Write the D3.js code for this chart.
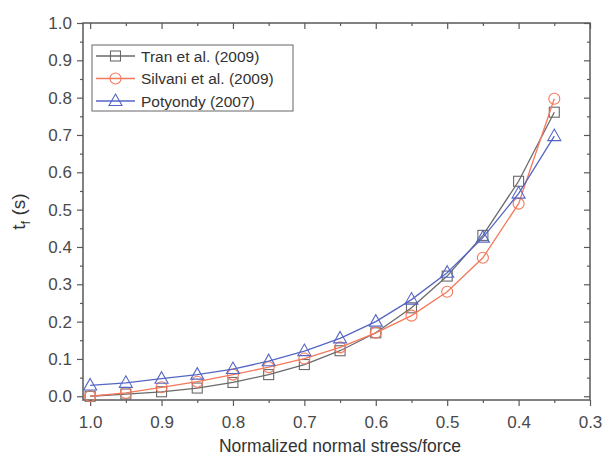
<!DOCTYPE html>
<html>
<head>
<meta charset="utf-8">
<script src="https://cdn.jsdelivr.net/npm/d3@7"></script>
<style>
  body { margin: 0; background: #fff; }
  svg { display: block; font-family: Arial, "Liberation Sans", sans-serif; }
</style>
</head>
<body>
<div id="chart"></div>
<script>
// data
let stress = [1.0, 0.95, 0.9, 0.85, 0.8, 0.75, 0.7, 0.65, 0.6, 0.55, 0.5, 0.45, 0.4, 0.35]
let tran = [0.0, 0.006, 0.012, 0.022, 0.037, 0.058, 0.085, 0.122, 0.17, 0.237, 0.322, 0.431, 0.576, 0.761]
let silvani = [0.0, 0.009, 0.024, 0.039, 0.058, 0.078, 0.101, 0.131, 0.17, 0.216, 0.28, 0.371, 0.516, 0.797]
let potyondy = [0.029, 0.036, 0.047, 0.058, 0.073, 0.094, 0.121, 0.155, 0.2, 0.259, 0.331, 0.425, 0.543, 0.697]
let xTicks = [1.0, 0.9, 0.8, 0.7, 0.6, 0.5, 0.4, 0.3]
let yTicks = [0.0, 0.1, 0.2, 0.3, 0.4, 0.5, 0.6, 0.7, 0.8, 0.9, 1.0]

let series = [
  { name: 'Tran et al. (2009)', values: tran, color: '#6a6a6a', marker: 'square' },
  { name: 'Silvani et al. (2009)', values: silvani, color: '#f4785a', marker: 'circle' },
  { name: 'Potyondy (2007)', values: potyondy, color: '#5566c4', marker: 'triangle' }
]

let w = 605, h = 457
let m = { left: 83, right: 15, top: 23, bottom: 57 }
let axisColor = '#5a5a5a'
let labelColor = '#4a4a4a'

let svg = d3.select('#chart').append('svg')
  .attr('width', w)
  .attr('height', h)

let x = d3.scaleLinear().domain([1.01, 0.3]).range([m.left, w - m.right])
let y = d3.scaleLinear().domain([-0.01, 1.0]).range([h - m.bottom, m.top])

let minorX = d3.range(0, 14).map(i => 0.95 - i * 0.1).filter(v => v > 0.3)
let minorY = d3.range(0, 10).map(i => 0.05 + i * 0.1)

//坐标轴
let styleAxis = g => {
  g.select('.domain').remove()
  g.selectAll('line').attr('stroke', axisColor).attr('stroke-width', 1.2)
  g.selectAll('text').attr('fill', labelColor).attr('font-size', 17)
}
let bottomY = h - m.bottom
let rightX = w - m.right

svg.append('g')
  .attr('transform', `translate(0,${bottomY})`)
  .call(d3.axisBottom(x).tickValues(xTicks).tickFormat(d3.format('.1f')).tickSize(6).tickPadding(10))
  .call(styleAxis)
svg.append('g')
  .attr('transform', `translate(0,${bottomY})`)
  .call(d3.axisBottom(x).tickValues(minorX).tickFormat('').tickSize(3))
  .call(styleAxis)
svg.append('g')
  .attr('transform', `translate(${m.left},0)`)
  .call(d3.axisLeft(y).tickValues(yTicks).tickFormat(d3.format('.1f')).tickSize(6).tickPadding(5))
  .call(styleAxis)
svg.append('g')
  .attr('transform', `translate(${m.left},0)`)
  .call(d3.axisLeft(y).tickValues(minorY).tickFormat('').tickSize(3))
  .call(styleAxis)
// mirror ticks, pointing inward
svg.append('g')
  .attr('transform', `translate(0,${m.top})`)
  .call(d3.axisBottom(x).tickValues(xTicks).tickFormat('').tickSize(6))
  .call(styleAxis)
svg.append('g')
  .attr('transform', `translate(0,${m.top})`)
  .call(d3.axisBottom(x).tickValues(minorX).tickFormat('').tickSize(3))
  .call(styleAxis)
svg.append('g')
  .attr('transform', `translate(${rightX},0)`)
  .call(d3.axisLeft(y).tickValues(yTicks).tickFormat('').tickSize(6))
  .call(styleAxis)
svg.append('g')
  .attr('transform', `translate(${rightX},0)`)
  .call(d3.axisLeft(y).tickValues(minorY).tickFormat('').tickSize(3))
  .call(styleAxis)

svg.append('rect')
  .attr('x', m.left)
  .attr('y', m.top)
  .attr('width', rightX - m.left)
  .attr('height', bottomY - m.top)
  .attr('fill', 'none')
  .attr('stroke', axisColor)
  .attr('stroke-width', 1.5)

//标记
let drawMarker = (g, type, color, cx, cy) => {
  if (type === 'square') {
    g.append('rect')
      .attr('x', cx - 5).attr('y', cy - 5)
      .attr('width', 10).attr('height', 10)
      .attr('fill', 'none').attr('stroke', color).attr('stroke-width', 1.1)
  } else if (type === 'circle') {
    g.append('circle')
      .attr('cx', cx).attr('cy', cy).attr('r', 5.5)
      .attr('fill', 'none').attr('stroke', color).attr('stroke-width', 1.1)
  } else {
    g.append('path')
      .attr('d', `M${cx},${cy - 7}L${cx + 6.5},${cy + 4.5}L${cx - 6.5},${cy + 4.5}Z`)
      .attr('fill', 'none').attr('stroke', color).attr('stroke-width', 1.1)
  }
}

let line = d3.line()
  .x(d => x(d[0]))
  .y(d => y(d[1]))

series.forEach(s => {
  let pts = stress.map((v, i) => [v, s.values[i]])
  let g = svg.append('g')
  g.append('path')
    .datum(pts)
    .attr('d', line)
    .attr('fill', 'none')
    .attr('stroke', s.color)
    .attr('stroke-width', 1.3)
  pts.forEach(p => drawMarker(g, s.marker, s.color, x(p[0]), y(p[1])))
})

//图例
let legend = svg.append('g')
legend.append('rect')
  .attr('x', 92).attr('y', 45)
  .attr('width', 201).attr('height', 66)
  .attr('fill', '#fff')
  .attr('stroke', '#666')
  .attr('stroke-width', 1)
series.forEach((s, i) => {
  let ly = 56 + i * 22.5
  legend.append('line')
    .attr('x1', 96).attr('x2', 135)
    .attr('y1', ly).attr('y2', ly)
    .attr('stroke', s.color).attr('stroke-width', 1.3)
  drawMarker(legend, s.marker, s.color, 115.5, ly)
  legend.append('text')
    .attr('x', 141).attr('y', ly + 5.5)
    .attr('font-size', 15.5)
    .attr('fill', '#333')
    .text(s.name)
})

//轴标题
svg.append('text')
  .attr('transform', `translate(25,${(m.top + bottomY) / 2}) rotate(-90)`)
  .attr('text-anchor', 'middle')
  .attr('font-size', 19)
  .attr('fill', '#333')
  .call(t => {
    t.append('tspan').text('t')
    t.append('tspan').attr('font-size', 13).attr('dy', 5).text('f')
    t.append('tspan').attr('dy', -5).text(' (s)')
  })

svg.append('text')
  .attr('x', 340)
  .attr('y', 452)
  .attr('text-anchor', 'middle')
  .attr('font-size', 17.5)
  .attr('fill', '#333')
  .text('Normalized normal stress/force')
</script>
</body>
</html>
